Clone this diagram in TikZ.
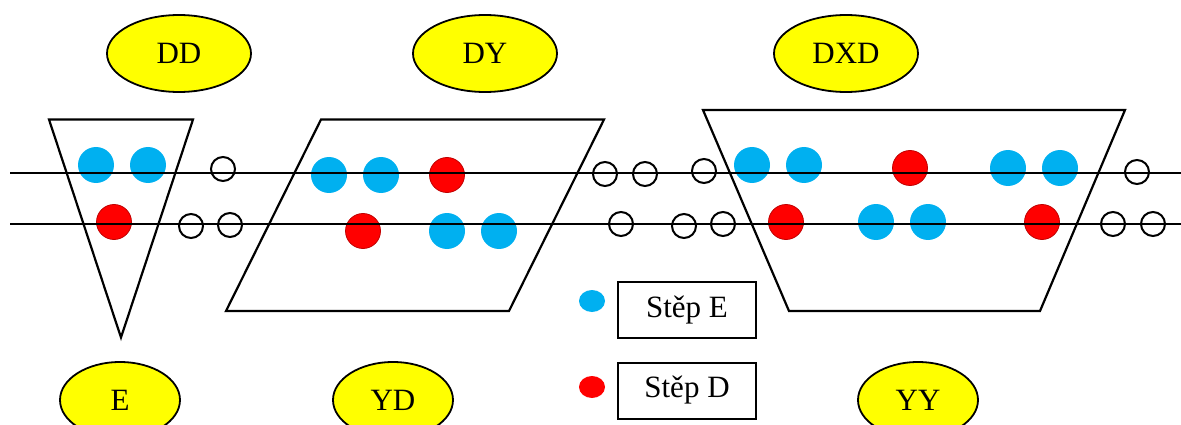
\documentclass[tikz,border=0pt]{standalone}
\usepackage{fontspec}
\setmainfont{Liberation Serif}
\usetikzlibrary{shapes.geometric}
\definecolor{stepblue}{HTML}{00B0F0}
\definecolor{stepred}{HTML}{FF0000}
\definecolor{stepredrim}{HTML}{C00000}
\definecolor{tagyellow}{HTML}{FFFF00}

\begin{document}
\begin{tikzpicture}[x=1pt,y=-1pt,
  tag/.style={ellipse, draw=black, line width=1.8pt, fill=tagyellow,
    minimum width=144pt, minimum height=77pt, inner sep=0pt,
    font=\fontsize{31}{36}\selectfont},
  tagsmall/.style={tag, minimum width=120pt, minimum height=76pt},
  bluedot/.style={circle, fill=stepblue, minimum size=36pt, inner sep=0pt},
  reddot/.style={circle, fill=stepred, draw=stepredrim, line width=0.8pt,
    minimum size=35pt, inner sep=0pt},
  emptydot/.style={circle, draw=black, line width=2pt, minimum size=24pt, inner sep=0pt},
  keydotblue/.style={ellipse, fill=stepblue, minimum width=26pt, minimum height=22pt, inner sep=0pt},
  keydotred/.style={ellipse, fill=stepred, minimum width=26pt, minimum height=22pt, inner sep=0pt},
  keybox/.style={rectangle, draw=black, line width=2pt, minimum width=138pt,
    minimum height=56pt, inner sep=0pt, font=\fontsize{31}{36}\selectfont},
  rail/.style={draw=black, line width=2pt},
  frame/.style={draw=black, line width=2.2pt, line join=miter}
]
\useasboundingbox (0,0) rectangle (1181,425);

% labels above and below
\node[tag] (dd)  at (179,53.5) {DD};
\node[tag] (dy)  at (485,53.5) {DY};
\node[tag] (dxd) at (846,53.5) {DXD};
\node[tagsmall] (e)  at (120,400) {E};
\node[tagsmall] (yd) at (393,400) {YD};
\node[tagsmall] (yy) at (918,400) {YY};

% filled dots inside the frames
\node[bluedot] (t1) at (96,165) {};
\node[bluedot] (t2) at (148,165) {};
\node[reddot]  (t3) at (114,222) {};

\node[bluedot] (p1) at (329,175) {};
\node[bluedot] (p2) at (381,175) {};
\node[reddot]  (p3) at (447,175) {};
\node[reddot]  (p4) at (363,231) {};
\node[bluedot] (p5) at (447,231) {};
\node[bluedot] (p6) at (499,231) {};

\node[bluedot] (q1) at (752,165) {};
\node[bluedot] (q2) at (804,165) {};
\node[reddot]  (q3) at (910,168) {};
\node[bluedot] (q4) at (1008,168) {};
\node[bluedot] (q5) at (1060,168) {};
\node[reddot]  (q6) at (786,222) {};
\node[bluedot] (q7) at (876,222) {};
\node[bluedot] (q8) at (928,222) {};
\node[reddot]  (q9) at (1042,222) {};

% the two horizontal rails
\coordinate (ra) at (10,173.5);
\coordinate (rb) at (1181,173.5);
\coordinate (sa) at (10,223.5);
\coordinate (sb) at (1181,223.5);
\draw[rail] (ra) -- (rb);
\draw[rail] (sa) -- (sb);

% empty dots along the rails
\node[emptydot] (o1)  at (223,169) {};
\node[emptydot] (o2)  at (191,226) {};
\node[emptydot] (o3)  at (230,225) {};
\node[emptydot] (o4)  at (605,174) {};
\node[emptydot] (o5)  at (645,174) {};
\node[emptydot] (o6)  at (704,171) {};
\node[emptydot] (o7)  at (621,224) {};
\node[emptydot] (o8)  at (684,226) {};
\node[emptydot] (o9)  at (723,224) {};
\node[emptydot] (o10) at (1137,172) {};
\node[emptydot] (o11) at (1113,224) {};
\node[emptydot] (o12) at (1153,224) {};

% frames
\draw[frame] (49,119.5) -- (193,119.5) -- (121,337.5) -- cycle;
\draw[frame] (321,119.5) -- (604,119.5) -- (509,311) -- (226,311) -- cycle;
\draw[frame] (703,110) -- (1125,110) -- (1040,311) -- (789,311) -- cycle;

% key
\node[keydotblue] (kb) at (592,301) {};
\node[keybox] (kbe) at (687,310) {Stěp E};
\node[keydotred] (kr) at (592,387) {};
\node[keybox] (kbd) at (687,390.5) {Stěp D};
\end{tikzpicture}
\end{document}
